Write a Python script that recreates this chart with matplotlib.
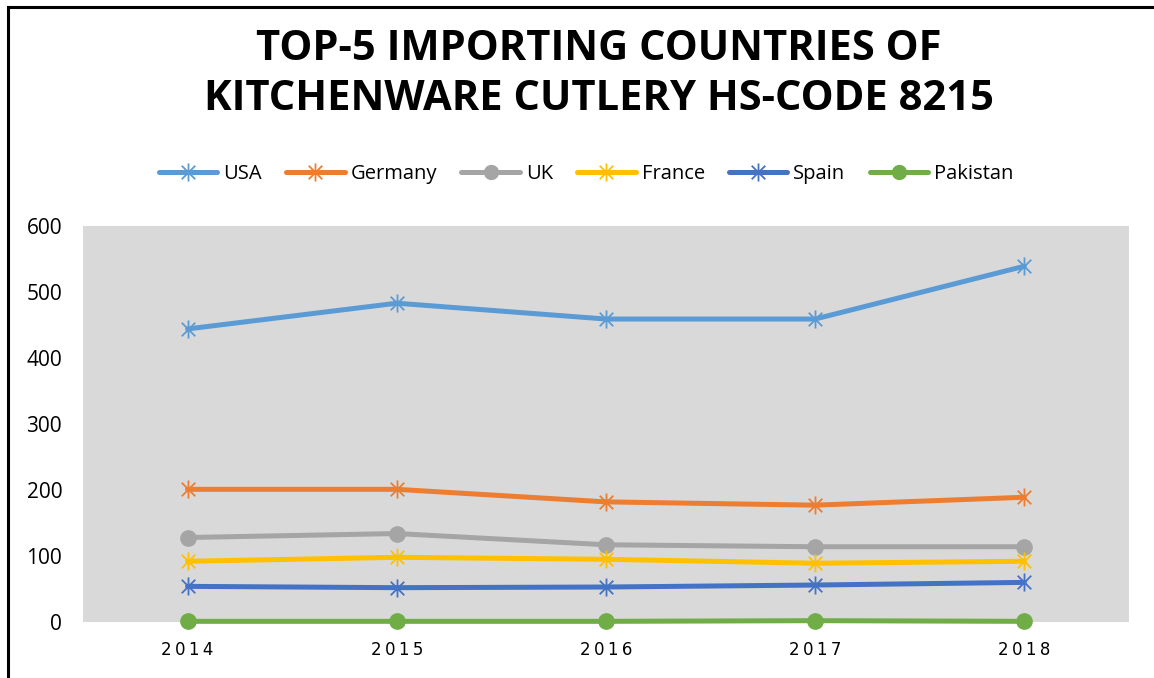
import matplotlib
matplotlib.use("Agg")
import matplotlib.pyplot as plt
from matplotlib.path import Path
from matplotlib.lines import Line2D

years = ["2014", "2015", "2016", "2017", "2018"]
usa = [444, 483, 459, 459, 539]
germany = [201, 201, 182, 177, 189]
uk = [128, 134, 117, 114, 114]
france = [92, 98, 95, 89, 92]
spain = [54, 52, 53, 56, 60]
pakistan = [1, 1, 1, 2, 1]

series = [
    ("USA", usa, "#5B9BD5", "star"),
    ("Germany", germany, "#ED7D31", "star"),
    ("UK", uk, "#A5A5A5", "o"),
    ("France", france, "#FFC000", "star"),
    ("Spain", spain, "#4472C4", "star"),
    ("Pakistan", pakistan, "#70AD47", "o"),
]

star = Path(
    [(0, -1), (0, 1), (-0.75, -0.75), (0.75, 0.75), (-0.75, 0.75), (0.75, -0.75)],
    [Path.MOVETO, Path.LINETO, Path.MOVETO, Path.LINETO, Path.MOVETO, Path.LINETO],
)

fig = plt.figure(figsize=(11.54, 6.78), dpi=100)
ax = fig.add_axes([0.0719, 0.0826, 0.9063, 0.5841])
ax.set_facecolor("#D9D9D9")

x = list(range(len(years)))
handles = []
for name, vals, color, mk in series:
    if mk == "star":
        kw = dict(marker=star, markersize=13, markeredgewidth=1.3,
                  markeredgecolor=color, markerfacecolor="none")
    else:
        kw = dict(marker="o", markersize=11, markeredgecolor=color,
                  markerfacecolor=color)
    (ln,) = ax.plot(x, vals, color=color, linewidth=3.6, label=name,
                    solid_capstyle="round", clip_on=False, zorder=3, **kw)
    handles.append(ln)

ax.set_xlim(-0.5, 4.5)
ax.set_ylim(0, 600)
ax.set_yticks(range(0, 601, 100))
ax.set_yticklabels([str(v) for v in range(0, 601, 100)], fontsize=15,
                   family="Open Sans")
ax.set_xticks(x)
ax.set_xticklabels(["\u2009".join(list(y)) for y in years], fontsize=12,
                   family="DejaVu Sans")
for s in ax.spines.values():
    s.set_visible(False)
ax.tick_params(axis="both", length=0)
ax.tick_params(axis="y", pad=15)
ax.tick_params(axis="x", pad=14)

fig.text(0.519, 0.89, "TOP-5 IMPORTING COUNTRIES OF\nKITCHENWARE CUTLERY HS-CODE 8215",
         ha="center", va="center", fontsize=30, fontweight="bold",
         family="Open Sans", linespacing=1.3)

leg = fig.legend(handles=handles, loc="center", bbox_to_anchor=(0.508, 0.743),
                 ncol=6, frameon=False, handlelength=2.9,
                 columnspacing=1.2, handletextpad=0.3,
                 prop={"family": "Open Sans", "size": 14.5})
for h in leg.legend_handles:
    if h.get_marker() == "o":
        h.set_markersize(10)

fig.add_artist(Line2D([8 / 1154, 1.0], [1 - 7 / 678, 1 - 7 / 678],
                      transform=fig.transFigure, color="black", linewidth=2.2))
fig.add_artist(Line2D([8 / 1154, 8 / 1154], [0, 1 - 7 / 678],
                      transform=fig.transFigure, color="black", linewidth=2.2))

fig.savefig("out.png", dpi=100)
